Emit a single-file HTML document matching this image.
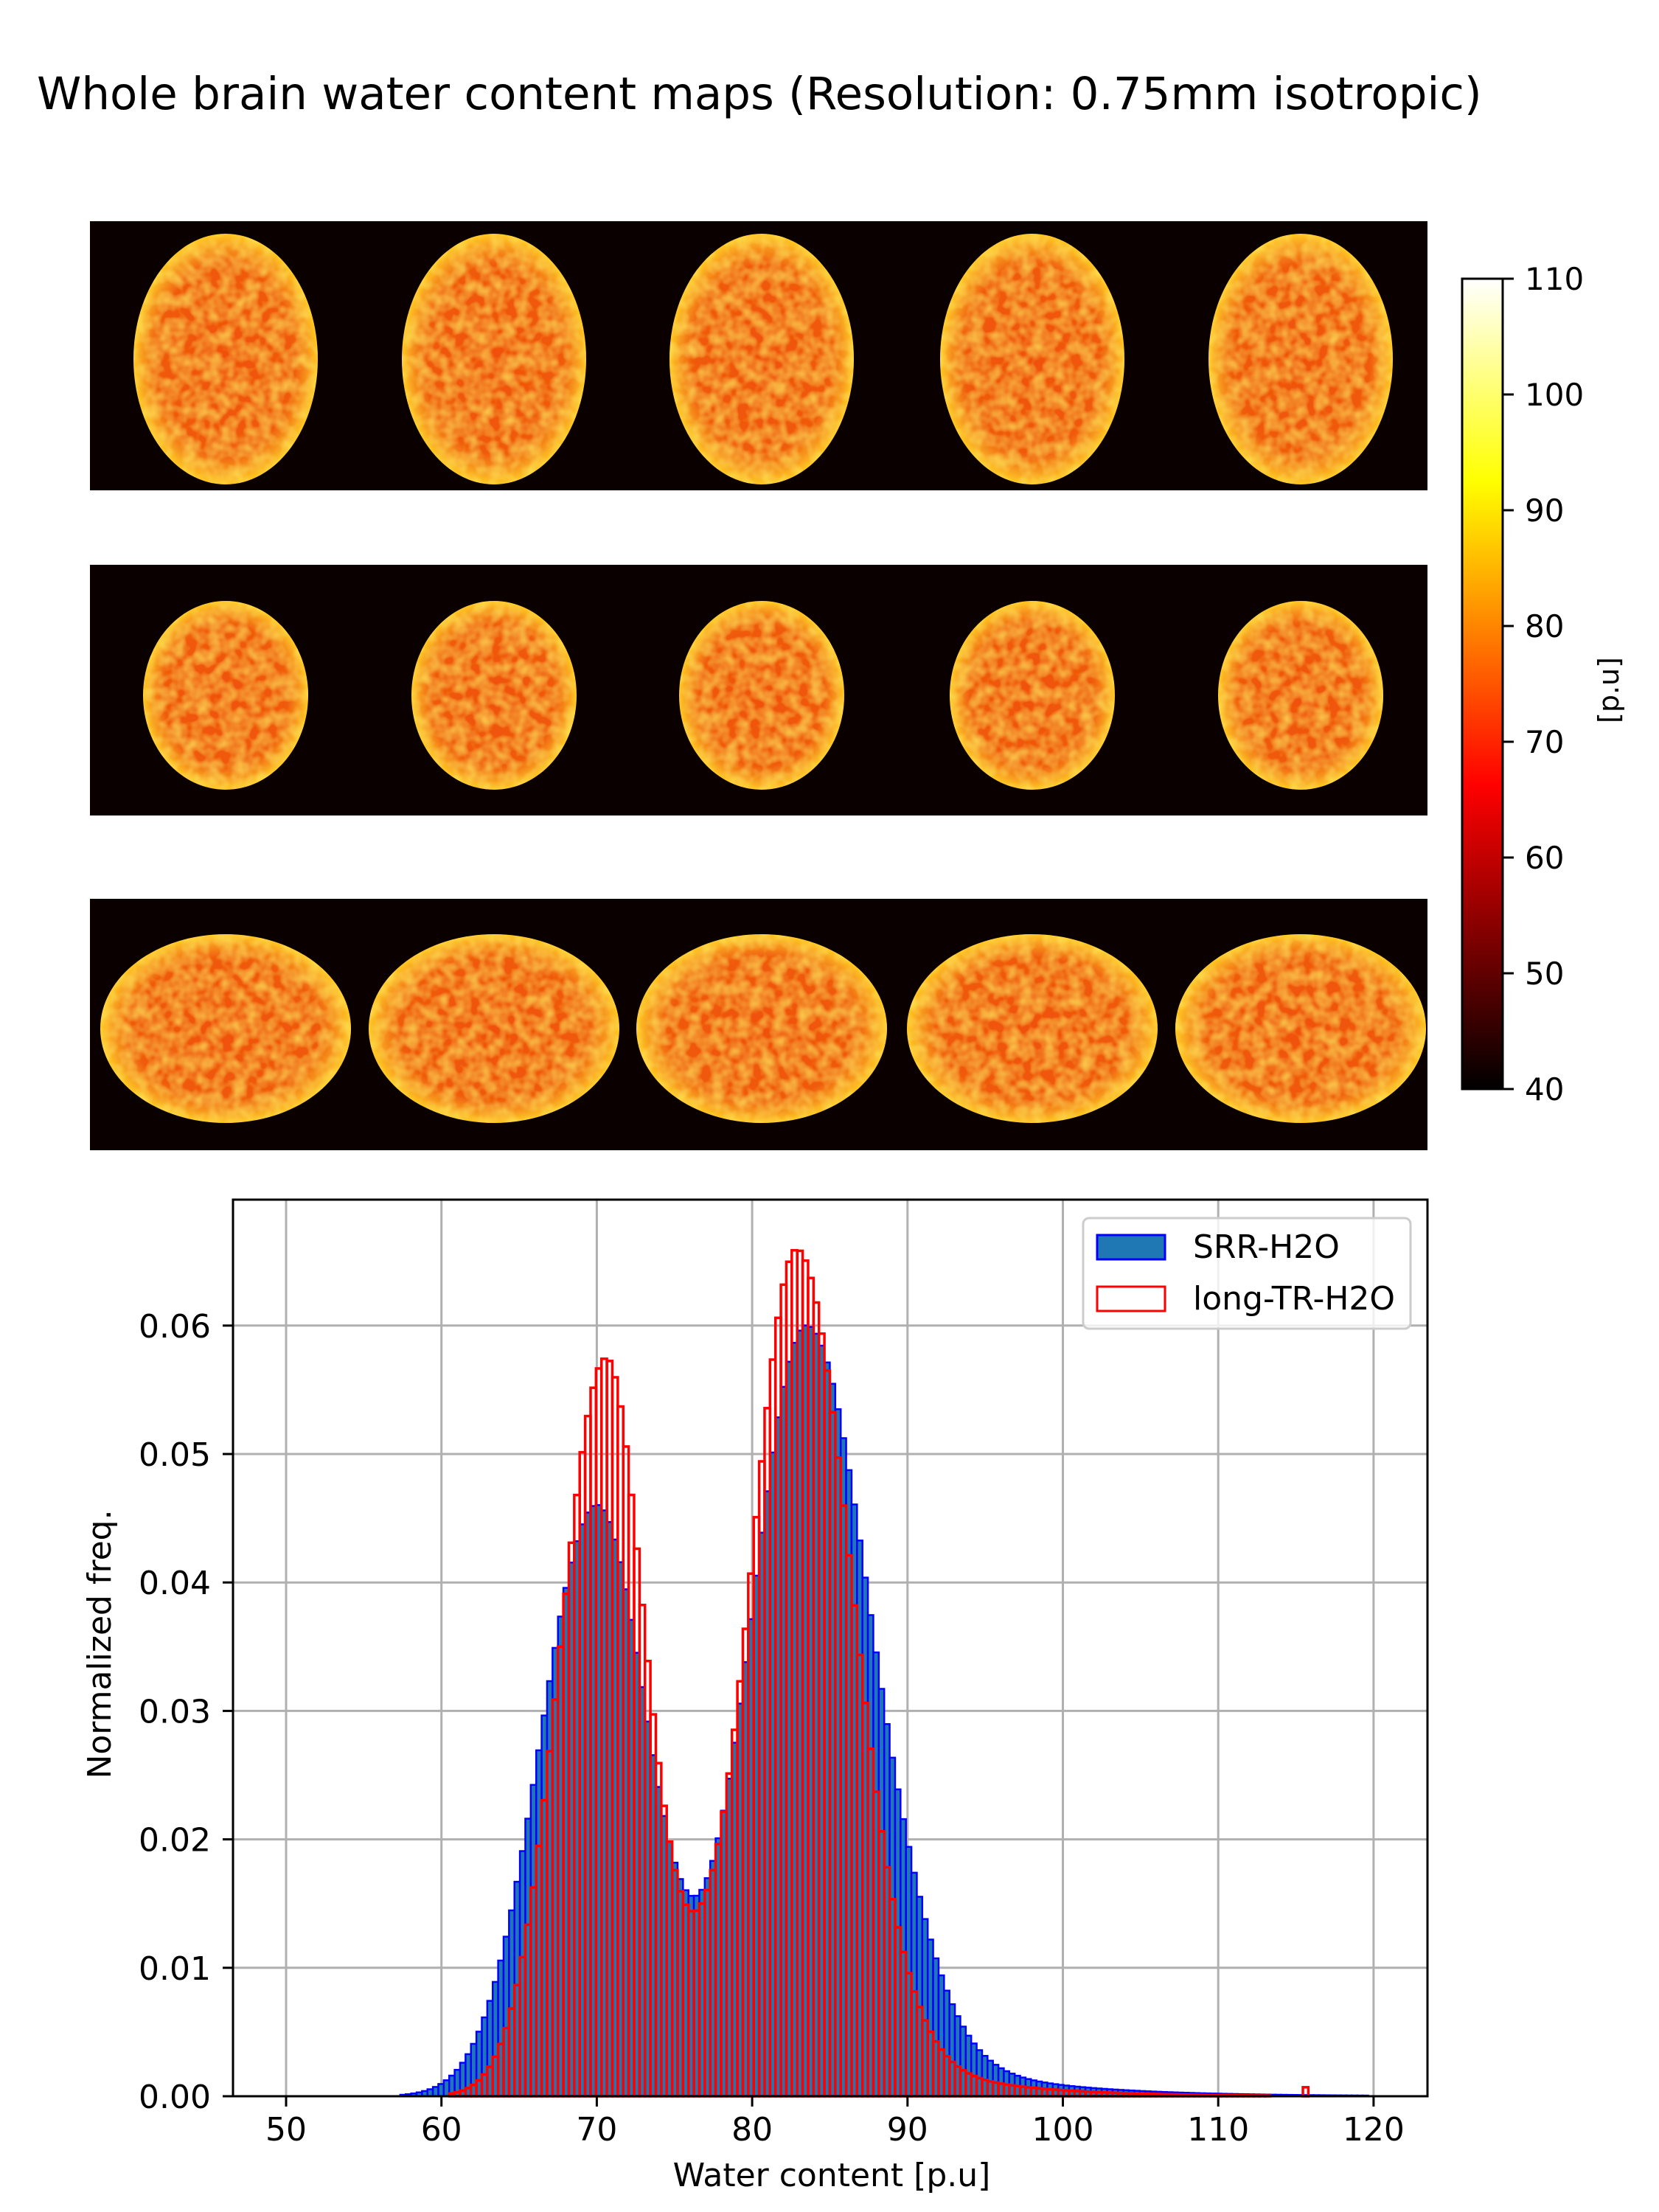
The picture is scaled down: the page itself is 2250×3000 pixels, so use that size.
<!DOCTYPE html>
<html><head><meta charset="utf-8"><style>
html,body{margin:0;padding:0;background:#fff;}
svg{display:block;font-family:"DejaVu Sans","Liberation Sans",sans-serif;}
</style></head><body>
<svg id="s" width="2250" height="3000" viewBox="0 0 2250 3000" xmlns="http://www.w3.org/2000/svg">
<defs>
<linearGradient id="cb" x1="0" y1="1" x2="0" y2="0">
<stop offset="0" stop-color="#000"/><stop offset="0.375" stop-color="#f00"/>
<stop offset="0.75" stop-color="#ff0"/><stop offset="1" stop-color="#fff"/>
</linearGradient>
<radialGradient id="br" cx="0.5" cy="0.5" r="0.5">
<stop offset="0" stop-color="#f0500c"/><stop offset="0.75" stop-color="#f05a0e"/>
<stop offset="0.9" stop-color="#f79a20"/><stop offset="1" stop-color="#ffc820"/>
</radialGradient>
<filter id="nz"><feTurbulence type="fractalNoise" baseFrequency="0.06" numOctaves="2" seed="3"/>
<feColorMatrix values="0 0 0 0 1  0 0 0 0 0.8  0 0 0 0 0.1  0 0 0 1.1 -0.35"/>
<feComposite in2="SourceGraphic" operator="in"/>
<feMerge><feMergeNode in="SourceGraphic"/><feMergeNode/></feMerge></filter>
</defs>
<text x="50" y="148" font-size="61">Whole brain water content maps (Resolution: 0.75mm isotropic)</text>
<rect x="122" y="300" width="1814" height="365" fill="#0b0000"/>
<rect x="122" y="766" width="1814" height="340" fill="#0b0000"/>
<rect x="122" y="1219" width="1814" height="341" fill="#0b0000"/>
<g id="brains" filter="url(#nz)"></g>
<rect x="1983" y="378" width="55" height="1099" fill="url(#cb)" stroke="#000" stroke-width="3"/>
<g id="cbt" font-size="42"></g>
<text transform="translate(2195,936) rotate(-90)" font-size="38" text-anchor="middle">[p.u]</text>
<g id="grid"></g>
<g id="bars"></g>
<rect x="316" y="1627" width="1620" height="1216" fill="none" stroke="#000" stroke-width="3"/>
<g id="ticks" font-size="44"></g>
<text x="1128" y="2965" font-size="44" text-anchor="middle">Water content [p.u]</text>
<text transform="translate(150,2230) rotate(-90)" font-size="44" text-anchor="middle">Normalized freq.</text>
<rect x="1469" y="1652" width="444" height="150" rx="8" fill="#fff" fill-opacity="0.8" stroke="#ccc" stroke-width="3"/>
<rect x="1488" y="1675" width="92" height="33" fill="#1f77b4" stroke="#00f" stroke-width="3"/>
<rect x="1488" y="1745" width="92" height="33" fill="none" stroke="#f00" stroke-width="3"/>
<text x="1618" y="1706" font-size="44">SRR-H2O</text>
<text x="1618" y="1776" font-size="44">long-TR-H2O</text>
</svg>
<script>
var NS="http://www.w3.org/2000/svg";
function el(p,t,a,txt){var e=document.createElementNS(NS,t);for(var k in a)e.setAttribute(k,a[k]);if(txt!==undefined)e.textContent=txt;document.getElementById(p).appendChild(e);return e;}
var cx=[306,670,1033,1400,1764];
var rows=[[487,125,170],[943,112,128],[1395,170,128]];
rows.forEach(function(r){cx.forEach(function(x){el("brains","ellipse",{cx:x,cy:r[0],rx:r[1],ry:r[2],fill:"url(#br)"});});});
for(var v=40;v<=110;v+=10){var y=1477-(v-40)*15.7;el("cbt","line",{x1:2038,x2:2053,y1:y,y2:y,stroke:"#000","stroke-width":3});el("cbt","text",{x:2068,y:y+15},v);}
function X(v){return 388+(v-50)*21.07;}
function Y(f){return 2843-f*17420;}
for(var v=50;v<=120;v+=10){var x=X(v);el("grid","line",{x1:x,x2:x,y1:1627,y2:2843,stroke:"#b0b0b0","stroke-width":3});
el("ticks","line",{x1:x,x2:x,y1:2843,y2:2857,stroke:"#000","stroke-width":3});el("ticks","text",{x:x,y:2903,"text-anchor":"middle"},v);}
for(var i=0;i<=6;i++){var f=i*0.01,y=Y(f);if(i>0)el("grid","line",{x1:316,x2:1936,y1:y,y2:y,stroke:"#b0b0b0","stroke-width":3});
el("ticks","line",{x1:302,x2:316,y1:y,y2:y,stroke:"#000","stroke-width":3});el("ticks","text",{x:286,y:y+16,"text-anchor":"end"},f.toFixed(2));}
function ga(x,m,sl,sr){var s=x<m?sl:sr;return Math.exp(-0.5*Math.pow((x-m)/s,2));}
function srr(x){if(x<57.5)return 0;var v=0.046*ga(x,70,3.6,3.3)+0.060*ga(x,83.5,3.6,4.2);v+=0.0035/(1+Math.exp(-(x-90)))*Math.exp(-(x-90)/7);return v;}
function ltr(x){if(x<60.5)return 0;if(x>=115.4&&x<115.8)return 0.0007;var v=0.054*ga(x,70.5,2.9,2.4)+0.062*ga(x,83,2.8,3.5)+0.008*ga(x,77,5,5);v+=0.0025/(1+Math.exp(-(x-90)))*Math.exp(-(x-90)/6);return v;}
var w=0.35;
for(var b=50;b<120;b+=w){var c=b+w/2,x0=X(b),x1=X(b+w);var h=srr(c);if(h>0.00005)el("bars","rect",{x:x0,y:Y(h),width:x1-x0,height:2843-Y(h),fill:"#1f77b4",stroke:"#00f","stroke-width":2.5});}
for(var b=50;b<120;b+=w){var c=b+w/2,x0=X(b),x1=X(b+w);var h=ltr(c);if(h>0.00005)el("bars","rect",{x:x0,y:Y(h),width:x1-x0,height:2843-Y(h),fill:"none",stroke:"#f00","stroke-width":3.5});}
</script>
</body></html>
